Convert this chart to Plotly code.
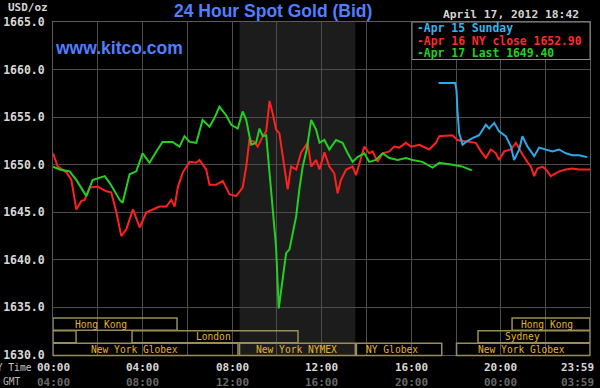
import plotly.graph_objects as go

# ---------------- data ----------------
series_names = ["Apr 15 Sunday", "Apr 16 NY close 1652.90", "Apr 17 Last 1649.40"]

# time in hours (New York time), price in USD/oz
apr15_time = [17.22, 17.96, 18.02, 18.06, 18.14, 18.29, 18.44, 18.73, 19.03, 19.33, 19.48, 19.70,
              19.92, 20.22, 20.45, 20.59, 20.82, 20.96, 21.19, 21.49, 21.71, 22.01, 22.30, 22.60,
              22.90, 23.19, 23.49, 23.86]
apr15_price = [1658.6, 1658.6, 1657.8, 1655.7, 1653.3, 1652.1, 1652.4, 1652.8, 1653.1, 1654.2, 1653.8, 1654.4,
               1653.5, 1653.0, 1651.9, 1650.5, 1651.6, 1653.0, 1651.9, 1650.9, 1651.8, 1651.6, 1651.4, 1651.6,
               1651.2, 1651.0, 1651.0, 1650.8]

apr16_time = [0.00, 0.21, 0.60, 0.82, 1.04, 1.27, 1.41, 1.64, 1.99, 2.38, 2.60, 2.83, 3.05, 3.27, 3.57,
              3.87, 4.17, 4.46, 4.76, 5.06, 5.28, 5.43, 5.58, 5.80, 6.10, 6.40, 6.54, 6.84, 6.99, 7.29,
              7.58, 7.88, 8.18, 8.47, 8.63, 8.77, 8.99, 9.14, 9.37, 9.52, 9.67, 9.81, 9.96, 10.11, 10.26,
              10.48, 10.63, 10.86, 11.08, 11.37, 11.53, 11.75, 11.90, 12.12, 12.34, 12.56, 12.71, 12.86,
              13.09, 13.38, 13.53, 13.76, 13.90, 14.12, 14.27, 14.50, 14.72, 15.02, 15.24, 15.46, 15.76,
              15.99, 16.36, 16.80, 17.10, 17.25, 17.84, 18.06, 18.59, 18.88, 19.11, 19.33, 19.55, 19.78,
              19.92, 20.15, 20.45, 20.67, 20.89, 21.12, 21.34, 21.49, 21.63, 21.86, 22.01, 22.23, 22.60,
              22.90, 23.19, 23.49, 23.98]
apr16_price = [1651.2, 1649.8, 1649.2, 1648.4, 1645.3, 1646.2, 1646.3, 1647.6, 1647.7, 1647.2, 1647.1, 1645.0,
               1642.5, 1643.2, 1645.3, 1643.4, 1645.0, 1645.3, 1645.6, 1645.6, 1646.3, 1645.6, 1647.7, 1649.2,
               1650.3, 1650.2, 1650.5, 1649.5, 1647.9, 1647.9, 1648.3, 1646.9, 1646.7, 1647.6, 1649.8, 1652.6,
               1652.4, 1651.9, 1653.0, 1653.5, 1656.7, 1655.4, 1653.7, 1653.3, 1650.9, 1647.4, 1649.8, 1649.5,
               1651.3, 1652.3, 1649.8, 1650.5, 1649.5, 1651.3, 1649.8, 1649.1, 1647.0, 1648.4, 1649.5, 1649.8,
               1648.9, 1650.7, 1651.9, 1651.2, 1651.4, 1650.3, 1651.2, 1651.4, 1651.9, 1651.8, 1652.3, 1651.9,
               1652.1, 1651.6, 1652.3, 1653.0, 1653.1, 1652.6, 1652.4, 1652.3, 1651.4, 1650.7, 1651.6, 1651.2,
               1650.5, 1651.4, 1651.6, 1652.3, 1651.4, 1650.5, 1649.8, 1648.8, 1649.6, 1649.8, 1649.5, 1648.8,
               1649.3, 1649.5, 1649.6, 1649.5, 1649.5]

apr17_time = [0.00, 0.30, 0.74, 1.04, 1.49, 1.77, 2.31, 2.53, 2.98, 3.11, 3.42, 3.72, 4.00, 4.31, 4.67,
              4.89, 5.34, 5.65, 5.87, 6.10, 6.40, 6.68, 6.99, 7.21, 7.43, 7.73, 7.96, 8.25, 8.47, 8.63,
              8.85, 9.07, 9.22, 9.37, 9.52, 9.67, 9.81, 9.96, 10.08, 10.26, 10.41, 10.56, 10.70, 10.86,
              11.00, 11.15, 11.33, 11.53, 11.75, 11.90, 12.12, 12.34, 12.64, 12.93, 13.16, 13.38, 13.60,
              13.90, 14.12, 14.42, 14.72, 15.02, 15.39, 15.76, 16.06, 16.50, 16.95, 17.25, 17.84, 18.29,
              18.70]
apr17_price = [1649.8, 1649.5, 1649.3, 1648.4, 1646.7, 1648.4, 1648.8, 1648.1, 1646.3, 1646.0, 1649.0, 1649.3,
               1651.2, 1650.2, 1651.6, 1652.4, 1652.4, 1651.9, 1653.0, 1652.4, 1652.3, 1654.7, 1654.0, 1654.9,
               1656.1, 1655.2, 1654.2, 1653.8, 1655.6, 1654.7, 1652.1, 1652.3, 1653.8, 1653.0, 1653.1, 1649.1,
               1644.9, 1641.4, 1634.9, 1638.3, 1640.7, 1641.1, 1642.8, 1644.6, 1647.4, 1649.8, 1651.6, 1654.7,
               1653.7, 1652.3, 1652.6, 1651.6, 1652.6, 1652.3, 1651.2, 1650.3, 1650.8, 1651.2, 1650.3, 1650.5,
               1651.2, 1650.7, 1650.5, 1650.7, 1650.5, 1650.3, 1649.7, 1650.2, 1650.0, 1649.8, 1649.4]

y_ticks = [1630, 1635, 1640, 1645, 1650, 1655, 1660, 1665]
ny_tick_hours = [0, 4, 8, 12, 16, 20, 23.98]
ny_tick_labels = ["00:00", "04:00", "08:00", "12:00", "16:00", "20:00", "23:59"]
gmt_tick_labels = ["04:00", "08:00", "12:00", "16:00", "20:00", "00:00", "03:59"]

# trading sessions (hours NY time), row 0 = top row
session_names = ["Hong Kong", "", "London", "New York Globex", "New York NYMEX", "NY Globex",
                 "New York Globex", "Sydney", "Hong Kong"]
session_start = [0.0, 0.0, 3.53, 0.0, 8.33, 13.55, 18.02, 18.98, 20.50]
session_end = [5.54, 1.03, 10.94, 8.26, 13.50, 17.36, 23.98, 23.98, 23.98]
session_row = [0, 1, 1, 2, 2, 2, 2, 1, 0]
nymex_index = 4

date_text = "April 17, 2012 18:42"

# ---------------- layout helpers ----------------
W, H = 600, 388
L, R, T, B = 53, 590, 22, 355


def px(x):
    return (x - L) / (R - L)


def py(y):
    return (B - y) / (B - T)


MONO = "DejaVu Sans Mono"
SANS = "Liberation Sans, Arial"
colors = ["#2aaae8", "#ff2020", "#22d022"]
legend_colors = ["#34b6f0", "#ff2a2a", "#22d022"]

fig = go.Figure()
series = [(apr16_time, apr16_price, 1), (apr17_time, apr17_price, 2), (apr15_time, apr15_price, 0)]
for t, p, i in series:
    fig.add_trace(go.Scatter(x=t, y=p, mode="lines", name=series_names[i],
                             line=dict(color=colors[i], width=2), hoverinfo="skip"))

shapes = []
# NYMEX shading
shapes.append(dict(type="rect", xref="x", yref="paper", x0=session_start[nymex_index],
                   x1=session_end[nymex_index], y0=0, y1=1, fillcolor="#1c1c1c",
                   line=dict(width=0), layer="below"))

row_tops = [318, 330.8, 343.3]
row_bottoms = [330.2, 342.8, 355.5]
row_label_y = [324.3, 336.8, 349.4]
# label centre offsets (hours) relative to session centre, as drawn in the source
label_shift = [-0.63, 0, -0.07, -0.48, -0.04, -0.3, -0.06, -0.53, -0.18]

annotations = []
box_line = "#9a8d58"
for k, name in enumerate(session_names):
    r = session_row[k]
    shapes.append(dict(type="rect", xref="x", yref="paper", x0=session_start[k], x1=session_end[k],
                       y0=py(row_bottoms[r]), y1=py(row_tops[r]), line=dict(color=box_line, width=1.5),
                       fillcolor="rgba(0,0,0,0)", layer="above"))
    if name:
        cx = (session_start[k] + session_end[k]) / 2 + label_shift[k]
        annotations.append(dict(x=cx, y=py(row_label_y[r]), xref="x", yref="paper", text=name,
                                showarrow=False, xanchor="center", yanchor="middle",
                                font=dict(family=MONO, size=9.6, color="#e4b428")))

# legend box
shapes.append(dict(type="rect", xref="paper", yref="paper", x0=px(412), x1=px(590), y0=py(59.5), y1=py(22),
                   fillcolor="#000000", line=dict(color="#8a8a8a", width=1), layer="above"))
for i, name in enumerate(series_names):
    annotations.append(dict(x=px(415), y=py([28.3, 40.5, 52.8][i]), xref="paper", yref="paper",
                            text="-" + name, showarrow=False, xanchor="left", yanchor="middle",
                            font=dict(family=MONO, size=11.4, color=legend_colors[i], weight="bold")))

# header texts
annotations.append(dict(x=px(272.5), y=py(11), xref="paper", yref="paper", text="24 Hour Spot Gold (Bid)",
                        showarrow=False, xanchor="center", yanchor="middle",
                        font=dict(family=SANS, size=17.5, color="#4f7fff", weight="bold")))
annotations.append(dict(x=px(53), y=py(47.5), xref="paper", yref="paper", text="www.kitco.com",
                        showarrow=False, xanchor="left", yanchor="middle",
                        font=dict(family=SANS, size=17.5, color="#4f7fff", weight="bold")))
annotations.append(dict(x=px(50), y=py(7.5), xref="paper", yref="paper", text="USD/oz",
                        showarrow=False, xanchor="right", yanchor="middle",
                        font=dict(family=MONO, size=11, color="#d4d4d4", weight="bold")))
annotations.append(dict(x=px(581), y=py(14), xref="paper", yref="paper", text=date_text,
                        showarrow=False, xanchor="right", yanchor="middle",
                        font=dict(family=MONO, size=11.3, color="#d4d4d4", weight="bold")))
annotations.append(dict(x=px(34), y=py(367), xref="paper", yref="paper", text="NY Time",
                        showarrow=False, xanchor="right", yanchor="middle",
                        font=dict(family=MONO, size=9.6, color="#c8c8c8")))
annotations.append(dict(x=px(1), y=py(381.5), xref="paper", yref="paper", text="GMT",
                        showarrow=False, xanchor="left", yanchor="middle",
                        font=dict(family=MONO, size=9.6, color="#b8b8b8")))

# x tick labels (two rows)
for j, h in enumerate(ny_tick_hours):
    last = j == len(ny_tick_hours) - 1
    common = dict(x=h, xref="x", yref="paper", showarrow=False,
                  xanchor="right" if last else "center", yanchor="middle", xshift=6 if last else 0)
    annotations.append(dict(common, y=py(367), text=ny_tick_labels[j],
                            font=dict(family=MONO, size=11, color="#d8d8d8", weight="bold")))
    annotations.append(dict(common, y=py(382), text=gmt_tick_labels[j],
                            font=dict(family=MONO, size=11, color="#686868", weight="bold")))

fig.update_layout(
    width=W, height=H,
    margin=dict(l=L, r=W - R, t=T, b=H - B, pad=0, autoexpand=False),
    paper_bgcolor="#000000", plot_bgcolor="#000000",
    showlegend=False,
    shapes=shapes, annotations=annotations,
    xaxis=dict(range=[0, 23.98], tick0=0, dtick=2, showgrid=True, gridcolor="#4c4c4c", gridwidth=1,
               showticklabels=False, zeroline=False, showline=True, mirror=True, linecolor="#5a5a5a",
               linewidth=1, fixedrange=True, automargin=False),
    yaxis=dict(range=[1630, 1665], tickvals=y_ticks, ticktext=[f"{v:.1f}" for v in y_ticks],
               showgrid=True, gridcolor="#4c4c4c", gridwidth=1, zeroline=False, showline=True,
               mirror=True, linecolor="#5a5a5a", linewidth=1, ticks="", ticklabelstandoff=5,
               tickfont=dict(family=MONO, size=11.5, color="#d8d8d8", weight="bold"), fixedrange=True,
               automargin=False),
)

fig.write_html("out.html", config={"displayModeBar": False},
               post_script="document.body.style.margin='0';document.body.style.padding='0';"
                           "document.body.style.background='#000';document.body.style.overflow='hidden';")
